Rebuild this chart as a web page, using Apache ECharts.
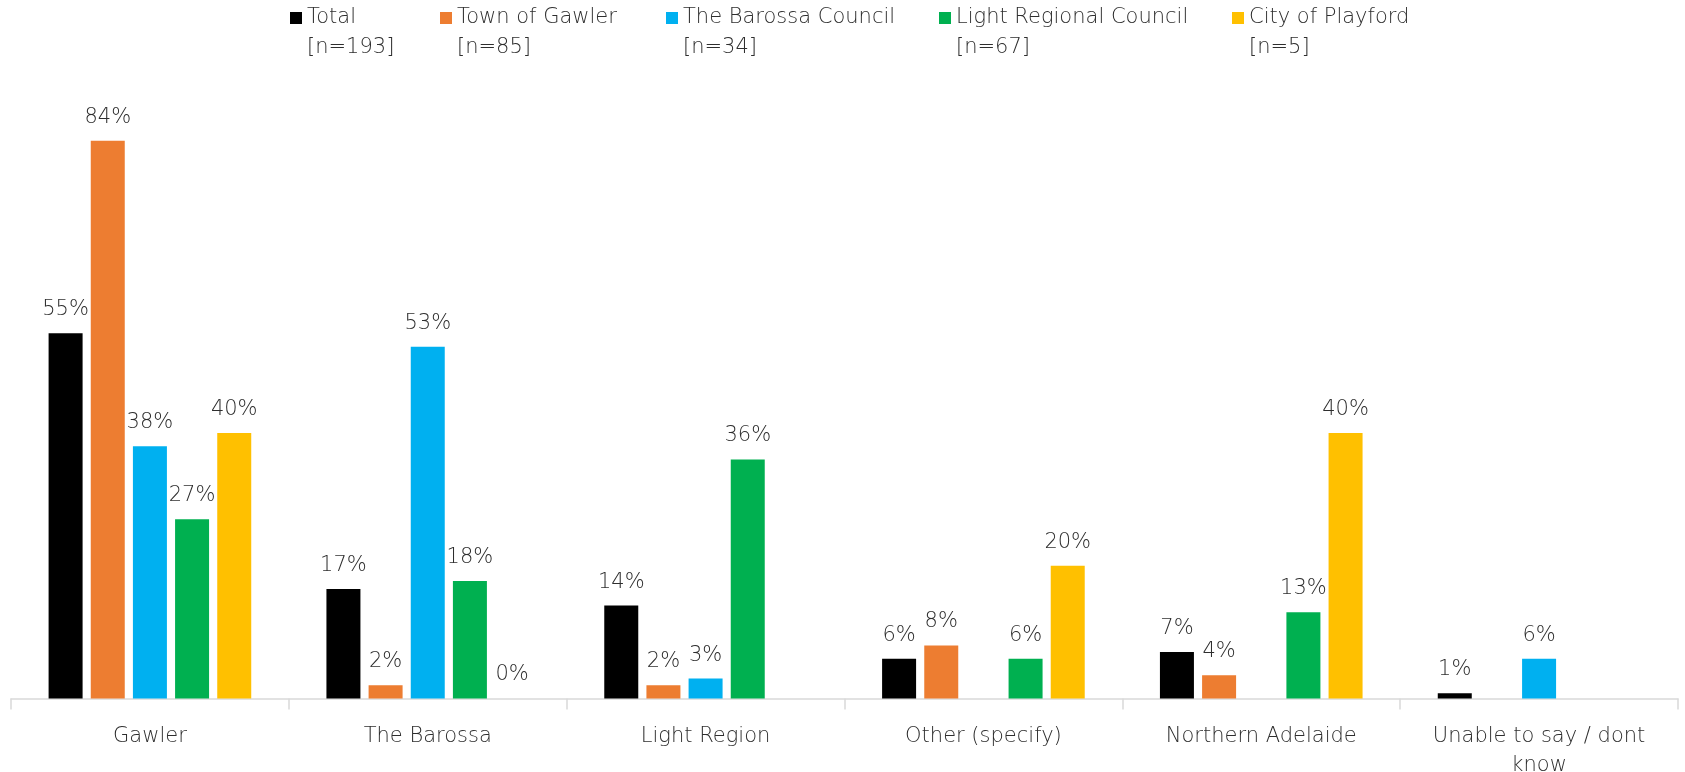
<!DOCTYPE html>
<html>
<head>
<meta charset="utf-8">
<script src="https://cdn.jsdelivr.net/npm/echarts@6/dist/echarts.min.js"></script>
<style>
html,body{margin:0;padding:0;background:#fff;}
#chart{width:1685px;height:772px;}
</style>
</head>
<body>
<div id="chart"></div>
<script>
const categories = ['Gawler', 'The Barossa', 'Light Region', 'Other (specify)', 'Northern Adelaide', 'Unable to say / dont\nknow'];
const seriesNames = ['Total', 'Town of Gawler', 'The Barossa Council', 'Light Regional Council', 'City of Playford'];
const sampleSizes = ['[n=193]', '[n=85]', '[n=34]', '[n=67]', '[n=5]'];
const colors = ['#000000', '#ED7D31', '#00B0F0', '#00B050', '#FFC000'];

const totalValues    = [55, 16.5, 14, 6, 7, 0.8];
const gawlerValues   = [84, 2, 2, 8, 3.5, null];
const barossaValues  = [38, 53, 3, null, null, 6];
const lightValues    = [27, 17.7, 36, 6, 13, null];
const playfordValues = [40, 0, null, 20, 40, null];

const allValues = [totalValues, gawlerValues, barossaValues, lightValues, playfordValues];
const legendLefts = [290, 440, 666, 939, 1232];

const FONT = 'DejaVu Sans';
const TXT = '#2e2e2e';

const chart = echarts.init(document.getElementById('chart'), null, {renderer: 'canvas'});

const legends = seriesNames.map((name, i) => ({
  data: [name],
  left: legendLefts[i],
  top: -27,
  padding: 0,
  icon: 'rect',
  itemWidth: 12,
  itemHeight: 12,
  selectedMode: false,
  formatter: n => '\n' + n + '\n' + sampleSizes[i],
  textStyle: {
    fontFamily: FONT,
    fontWeight: 200,
    fontSize: 21,
    lineHeight: 30,
    color: TXT
  }
}));

const series = seriesNames.map((name, i) => ({
  name: name,
  type: 'bar',
  data: allValues[i],
  barWidth: 34,
  barGap: '24%',
  itemStyle: {color: colors[i]},
  label: {
    show: true,
    position: 'top',
    distance: 13,
    fontFamily: FONT,
    fontWeight: 200,
    fontSize: 21,
    color: TXT,
    formatter: p => (p.value == null ? '' : Math.round(p.value) + '%')
  }
}));

chart.setOption({
  animation: false,
  backgroundColor: '#ffffff',
  color: colors,
  legend: legends,
  grid: {left: 11, right: 7, top: 101, bottom: 73.5, containLabel: false, outerBoundsMode: 'none'},
  xAxis: {
    type: 'category',
    data: categories,
    axisLine: {lineStyle: {color: '#d9d9d9', width: 1.5}},
    axisTick: {show: true, length: 11, lineStyle: {color: '#d9d9d9', width: 1.5}},
    axisLabel: {
      interval: 0,
      margin: 24,
      fontFamily: FONT,
      fontWeight: 200,
      fontSize: 21,
      lineHeight: 29,
      color: TXT
    }
  },
  yAxis: {
    type: 'value',
    min: 0,
    max: 90,
    show: false,
    splitLine: {show: false}
  },
  series: series
});
</script>
</body>
</html>
